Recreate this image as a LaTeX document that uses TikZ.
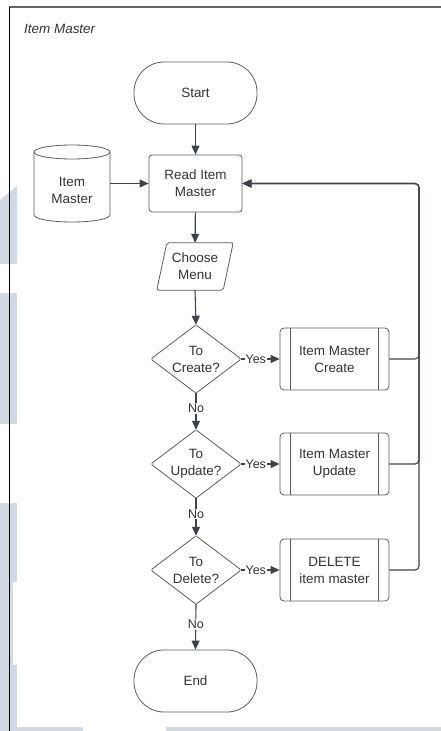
\documentclass[tikz,border=0pt]{standalone}
\usepackage{fontspec}
\setmainfont{Liberation Sans}
\usetikzlibrary{arrows.meta,calc}
\definecolor{wm}{HTML}{CFDAE5}
\definecolor{ink}{HTML}{333333}
\definecolor{edge}{HTML}{5C5C5C}
\definecolor{wire}{HTML}{3E434A}

\begin{document}
\begin{tikzpicture}[x=1bp,y=-1bp,
  every node/.style={text=ink, font=\fontsize{13.5}{17}\selectfont, align=center, inner sep=0pt},
  shapeline/.style={draw=edge, line width=0.8bp},
  terminal/.style={shapeline, minimum width=123bp, minimum height=62bp, rounded corners=30bp},
  procbox/.style={shapeline, minimum width=93bp, minimum height=57bp, rounded corners=3bp},
  subproc/.style={shapeline, minimum width=109bp, minimum height=62bp, rounded corners=4bp},
  holder/.style={draw=none},
  flow/.style={draw=wire, line width=1.1bp, -{Triangle[length=9bp,width=8bp]}},
  lbl/.style={font=\fontsize{12.5}{14}\selectfont, fill=white, inner sep=1pt}
]
\useasboundingbox (0,0) rectangle (441,731);

% faint background marks
\fill[wm] (0,200) -- (17,186) -- (17,264) -- (0,264) -- cycle;
\fill[wm] (0,293) rectangle (17,424);
\fill[wm] (0,503) rectangle (17,582);
\fill[wm] (0,582) rectangle (13,665);
\fill[wm] (0,665) rectangle (17,731);
\fill[wm] (17,727) rectangle (83,731);
\fill[wm] (166,727) rectangle (441,731);

% page frame
\draw[draw=gray!80!black, line width=1.3bp] (9,7) -- (441,7);
\draw[draw=black, line width=1bp] (9,7) -- (9,731);

% title
\node[anchor=west, font=\itshape\fontsize{13.5}{17}\selectfont] (title) at (24,29) {Item Master};

% main column
\node[terminal] (start) at (195.5,93) {Start};
\node[procbox] (read) at (195.5,183.5) {Read Item\\Master};

% stored data (cylinder)
\node[holder, minimum width=76bp, minimum height=77bp] (db) at (72,183.5) {};
\draw[shapeline] (34,152) -- (34,215) arc[start angle=180, end angle=360, x radius=38, y radius=-7]
  -- (110,152);
\draw[shapeline] (72,152) ellipse[x radius=38, y radius=7];
\node at (72,190) {Item\\Master};

% input/output (parallelogram)
\node[holder, minimum width=76bp, minimum height=47bp] (menu) at (195,266.5) {Choose\\Menu};
\draw[shapeline, rounded corners=2bp] ($(menu.north west)+(10,0)$) -- (menu.north east)
  -- ($(menu.south east)+(-10,0)$) -- (menu.south west) -- cycle;

% decisions
\foreach \nm/\yy/\txt in {c1/359/{To\\Create?}, c2/464/{To\\Update?}, c3/570/{To\\Delete?}}{
  \node[holder, minimum width=90bp, minimum height=68bp] (\nm) at (196,\yy) {\txt};
  \draw[shapeline, rounded corners=1.5bp] (\nm.north) -- (\nm.east) -- (\nm.south) -- (\nm.west) -- cycle;
}

% predefined processes
\node[subproc] (p1) at (334.5,359) {Item Master\\Create};
\node[subproc] (p2) at (334.5,464) {Item Master\\Update};
\node[subproc] (p3) at (334.5,570) {DELETE\\item master};
\foreach \nm in {p1,p2,p3}{
  \draw[shapeline] ($(\nm.north west)+(11,0)$) -- ($(\nm.south west)+(11,0)$);
  \draw[shapeline] ($(\nm.north east)+(-11,0)$) -- ($(\nm.south east)+(-11,0)$);
}

\node[terminal] (end) at (195.5,681) {End};

% connectors
\draw[flow] (start) -- (read);
\draw[flow] (db.east) -- (read.west);
\draw[flow] (read) -- (menu);
\draw[flow] (menu.south) -- (c1.north);
\draw[flow] (c1.south) -- node[lbl, pos=0.42] {No} (c2.north);
\draw[flow] (c2.south) -- node[lbl, pos=0.42] {No} (c3.north);
\draw[flow] (c3.south) -- node[lbl, pos=0.45] {No} (end.north);
\draw[flow] (c1.east) -- node[lbl, pos=0.38] {Yes} (p1.west);
\draw[flow] (c2.east) -- node[lbl, pos=0.38] {Yes} (p2.west);
\draw[flow] (c3.east) -- node[lbl, pos=0.38] {Yes} (p3.west);

% return paths back to reading
\coordinate (bus) at (419,183.5);
\foreach \nm in {p1,p2,p3}{
  \draw[flow, rounded corners=4bp] (\nm.east) -| (bus) -- (read.east);
}
\end{tikzpicture}
\end{document}
